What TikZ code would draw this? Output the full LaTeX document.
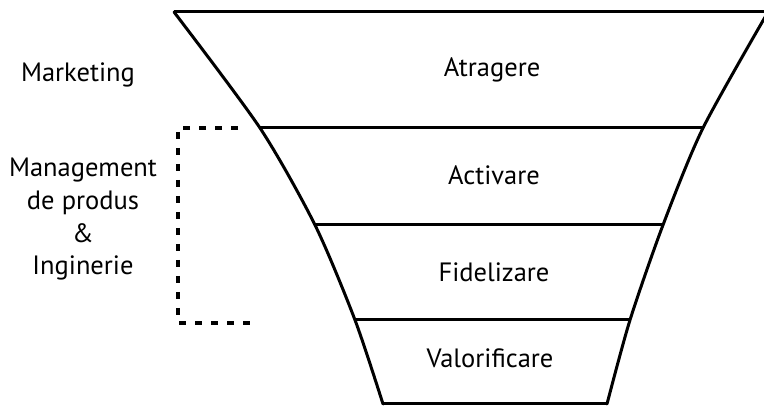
\documentclass[tikz,border=0pt]{standalone}
\usepackage{fontspec}
\setmainfont{PT Sans}
\begin{document}
\begin{tikzpicture}[x=1pt,y=-1pt,
  funnel/.style={line width=3pt, line join=round, line cap=round},
  band/.style={line width=3pt},
  lbl/.style={font=\fontsize{26.5}{32}\selectfont, inner sep=0pt, anchor=base},
  bracket/.style={line width=4.5pt, dash pattern=on 7pt off 9pt}]
\useasboundingbox (0,0) rectangle (764,406);
\clip (0,0) rectangle (764,406);
% funnel corners
\coordinate (L0) at (174,12);
\coordinate (L1) at (260,128);
\coordinate (L2) at (315,225);
\coordinate (L3) at (355,320);
\coordinate (L4) at (383,404);
\coordinate (R0) at (768,12);
\coordinate (R1) at (703,128);
\coordinate (R2) at (663,225);
\coordinate (R3) at (630,320);
\coordinate (R4) at (607,404);
% sides
\draw[funnel] plot[smooth, tension=0.45] coordinates {(L0) (L1) (L2) (L3) (L4)};
\draw[funnel] plot[smooth, tension=0.45] coordinates {(R0) (R1) (R2) (R3) (R4)};
% bands
\draw[band] (L0) -- (R0);
\draw[band] (L1) -- (R1);
\draw[band] (L2) -- (R2);
\draw[band] (L3) -- (R3);
\draw[band] (L4) -- (R4);
% stage labels
\node[lbl] (atr) at (492,77) {Atragere};
\node[lbl] (act) at (494,185) {Activare};
\node[lbl] (fid) at (494,282) {Fidelizare};
\node[lbl] (val) at (490,368) {Valorificare};
% side labels
\node[lbl] (mkt) at (78,82) {Marketing};
\node[lbl] (mg1) at (83,177) {Management};
\node[lbl] (mg2) at (83,210) {de produs};
\node[lbl] (mg3) at (83,243) {\&};
\node[lbl] (mg4) at (83,275) {Inginerie};
% bracket
\coordinate (B0) at (238,128);
\coordinate (B1) at (178,128);
\coordinate (B2) at (178,323);
\coordinate (B3) at (251,323);
\draw[bracket] (B0) -- (B1) -- (B2) -- (B3);
\end{tikzpicture}
\end{document}
